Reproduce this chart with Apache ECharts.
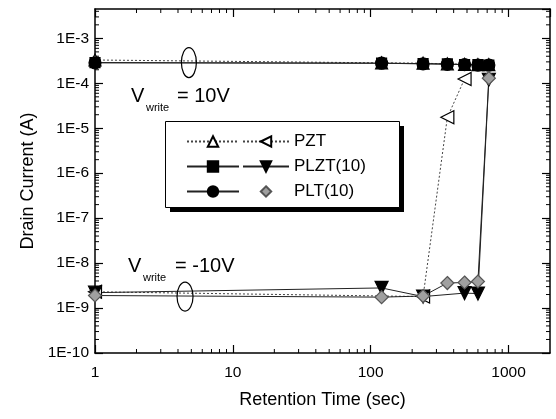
<!DOCTYPE html>
<html>
<head>
<meta charset="utf-8">
<script src="https://cdn.jsdelivr.net/npm/echarts@6/dist/echarts.min.js"></script>
<style>
html, body { margin: 0; padding: 0; background: #fff; }
#main { width: 556px; height: 419px; }
</style>
</head>
<body>
<div id="main"></div>
<script>
// retention times (sec)
var timeHigh = [1, 120, 240, 360, 480, 600, 720]
var timePztLow = [1, 240, 360, 480]
var timePlztLow = [1, 120, 240, 480, 600, 720]
var timePltLow = [1, 120, 240, 360, 480, 600, 720]

// drain current (A), Vwrite = 10V
var pztHigh = [3.3e-4, 2.85e-4, 2.8e-4, 2.7e-4, 2.65e-4, 2.6e-4, 2.6e-4]
var plztHigh = [2.9e-4, 2.8e-4, 2.75e-4, 2.7e-4, 2.6e-4, 2.6e-4, 2.55e-4]
var pltHigh = [2.85e-4, 2.8e-4, 2.7e-4, 2.65e-4, 2.6e-4, 2.55e-4, 2.55e-4]

// drain current (A), Vwrite = -10V
var pztLow = [2.3e-9, 1.8e-9, 1.75e-5, 1.25e-4]
var plztLow = [2.2e-9, 2.8e-9, 1.8e-9, 2.15e-9, 2.1e-9, 1.2e-4]
var pltLow = [1.9e-9, 1.75e-9, 1.85e-9, 3.6e-9, 3.7e-9, 3.9e-9, 1.3e-4]

var legendNames = ['PZT', 'PLZT(10)', 'PLT(10)']

var xMin = 1, xMax = 2000
var yMin = 1e-10, yMax = 4.5e-3

function pairs(xs, ys) {
  return xs.map(function (x, i) { return [x, ys[i]] })
}

// log minor ticks (2..9 per decade) for both axes
var minorTicks = []
for (var k = 0; k < 4; k++) {
  for (var m = 2; m < 10; m++) {
    var v = m * Math.pow(10, k)
    if (v < xMax) minorTicks.push([v, yMin, 0])
  }
}
for (var k = -10; k < -2; k++) {
  for (var m = 2; m < 10; m++) {
    var v = m * Math.pow(10, k)
    if (v < yMax) minorTicks.push([xMin, v, 1])
  }
}

var font = 'Liberation Sans, Arial, sans-serif'
var dotted = { color: '#444', width: 1, type: [2, 2] }
var solid = { color: '#222', width: 1 }

function lineSeries(name, data, symbol, rotate, size, fill, border, ls) {
  return {
    name: name, type: 'line', data: data,
    symbol: symbol, symbolRotate: rotate, symbolSize: size,
    itemStyle: { color: fill, borderColor: border, borderWidth: 1.2 },
    lineStyle: ls,
    z: 3
  }
}

var chart = echarts.init(document.getElementById('main'))

var axisCommon = {
  type: 'log', logBase: 10,
  axisLine: { lineStyle: { color: '#000', width: 1.5 } },
  axisTick: { inside: true, length: 8, lineStyle: { color: '#000', width: 1.2 } },
  splitLine: { show: false }
}

var legendText = { fontFamily: font, fontSize: 17, color: '#000', lineHeight: 14 }

chart.setOption({
  animation: false,
  backgroundColor: '#fff',
  grid: { left: 95, right: 6, top: 9, bottom: 66 },
  xAxis: [
    Object.assign({}, axisCommon, {
      min: xMin, max: xMax, splitNumber: 5,
      name: 'Retention Time (sec)', nameLocation: 'middle', nameGap: 38,
      nameTextStyle: { fontFamily: font, fontSize: 18, color: '#000' },
      axisLabel: {
        fontFamily: font, fontSize: 15.5, color: '#000', margin: 12, showMaxLabel: false,
        formatter: function (v) { return String(Math.round(v)) }
      }
    }),
    Object.assign({}, axisCommon, {
      position: 'top', min: xMin, max: xMax, splitNumber: 5,
      axisLabel: { show: false }
    })
  ],
  yAxis: [
    Object.assign({}, axisCommon, {
      min: yMin, max: yMax, splitNumber: 8,
      name: 'Drain Current (A)', nameLocation: 'middle', nameGap: 58,
      nameTextStyle: { fontFamily: font, fontSize: 18, color: '#000' },
      axisLabel: {
        fontFamily: font, fontSize: 15.5, color: '#000', margin: 6, showMaxLabel: false,
        formatter: function (v) { return '1E' + Math.round(Math.log10(v)) }
      }
    }),
    Object.assign({}, axisCommon, {
      position: 'right', min: yMin, max: yMax, splitNumber: 8,
      axisLabel: { show: false }
    })
  ],
  legend: [
    {
      data: ['PZT 10V', 'PLZT 10V', 'PLT 10V'],
      orient: 'vertical', left: 186, top: 133, itemWidth: 52, itemHeight: 13, itemGap: 8,
      textStyle: legendText, padding: 0,
      formatter: function () { return ' ' },
      selectedMode: false, z: 10
    },
    {
      data: [
        { name: 'PZT -10V' },
        { name: 'PLZT -10V' },
        { name: 'PLT -10V', lineStyle: { opacity: 0 } }
      ],
      orient: 'vertical', left: 242, top: 133, itemWidth: 46, itemHeight: 13, itemGap: 8,
      textStyle: legendText, padding: 0,
      formatter: function (name) {
        return legendNames[['PZT -10V', 'PLZT -10V', 'PLT -10V'].indexOf(name)]
      },
      selectedMode: false, z: 10
    }
  ],
  series: [
    lineSeries('PZT 10V', pairs(timeHigh, pztHigh), 'triangle', 0, 12, '#fff', '#000', dotted),
    lineSeries('PLZT 10V', pairs(timeHigh, plztHigh), 'rect', 0, 10, '#000', '#000', solid),
    lineSeries('PLT 10V', pairs(timeHigh, pltHigh), 'circle', 0, 12, '#000', '#000', solid),
    lineSeries('PZT -10V', pairs(timePztLow, pztLow), 'triangle', 90, 13, '#fff', '#000', dotted),
    lineSeries('PLZT -10V', pairs(timePlztLow, plztLow), 'triangle', 180, 13, '#000', '#000', solid),
    lineSeries('PLT -10V', pairs(timePltLow, pltLow), 'diamond', 0, 13, '#a0a0a0', '#555', solid),
    {
      name: 'minor ticks', type: 'custom', data: minorTicks, silent: true, z: 1,
      encode: { x: 0, y: 1 },
      renderItem: function (params, api) {
        var cs = params.coordSys
        var p = api.coord([api.value(0), api.value(1)])
        var st = { stroke: '#000', lineWidth: 1 }
        if (api.value(2) === 0) {
          return { type: 'group', children: [
            { type: 'line', shape: { x1: p[0], y1: cs.y + cs.height, x2: p[0], y2: cs.y + cs.height - 4 }, style: st },
            { type: 'line', shape: { x1: p[0], y1: cs.y, x2: p[0], y2: cs.y + 4 }, style: st }
          ] }
        }
        return { type: 'group', children: [
          { type: 'line', shape: { x1: cs.x, y1: p[1], x2: cs.x + 4, y2: p[1] }, style: st },
          { type: 'line', shape: { x1: cs.x + cs.width, y1: p[1], x2: cs.x + cs.width - 4, y2: p[1] }, style: st }
        ] }
      }
    }
  ]
})

// legend frame, annotations and ellipses
var e1 = chart.convertToPixel({ gridIndex: 0 }, [4.8, 2.9e-4])
var e2 = chart.convertToPixel({ gridIndex: 0 }, [4.5, 1.8e-9])
var vStyle = { fontFamily: font, fontSize: 20, fill: '#000' }
var sStyle = { fontFamily: font, fontSize: 11, fill: '#000' }

chart.setOption({
  graphic: [
    {
      type: 'rect', z: 4, left: 170, top: 126,
      shape: { width: 234, height: 86 },
      style: { fill: '#000' }
    },
    {
      type: 'rect', z: 5, left: 165, top: 121,
      shape: { width: 234, height: 86 },
      style: { fill: '#fff', stroke: '#000', lineWidth: 1 }
    },
    { type: 'text', z: 5, x: 131, y: 86, style: Object.assign({ text: 'V' }, vStyle) },
    { type: 'text', z: 5, x: 146, y: 102, style: Object.assign({ text: 'write' }, sStyle) },
    { type: 'text', z: 5, x: 177, y: 86, style: Object.assign({ text: '= 10V' }, vStyle) },
    { type: 'text', z: 5, x: 128, y: 256, style: Object.assign({ text: 'V' }, vStyle) },
    { type: 'text', z: 5, x: 143, y: 272, style: Object.assign({ text: 'write' }, sStyle) },
    { type: 'text', z: 5, x: 175, y: 256, style: Object.assign({ text: '= -10V' }, vStyle) },
    {
      type: 'ellipse', z: 5, shape: { cx: e1[0], cy: e1[1], rx: 7.5, ry: 15 },
      style: { fill: 'none', stroke: '#000', lineWidth: 1.2 }
    },
    {
      type: 'ellipse', z: 5, shape: { cx: e2[0], cy: e2[1], rx: 8, ry: 14.5 },
      style: { fill: 'none', stroke: '#000', lineWidth: 1.2 }
    }
  ]
})
</script>
</body>
</html>
